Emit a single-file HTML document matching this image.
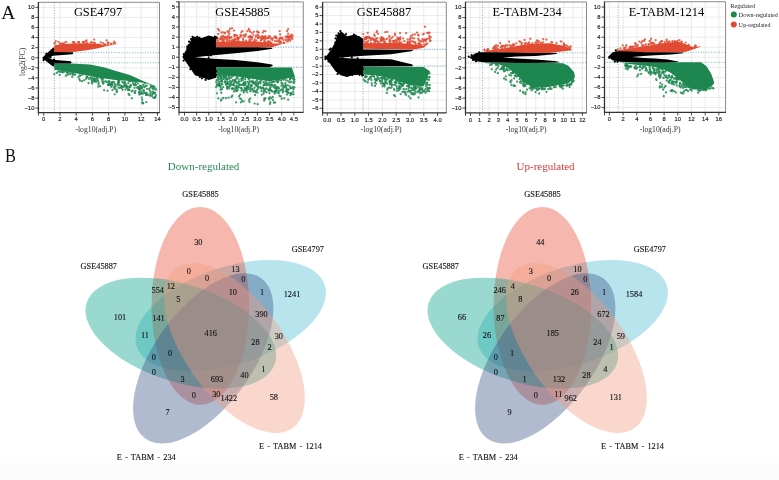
<!DOCTYPE html>
<html><head><meta charset="utf-8"><title>figure</title><style>
html,body{margin:0;padding:0;background:#fff;width:779px;height:480px;overflow:hidden}
svg{display:block;filter:blur(0.35px)}
text{font-family:"Liberation Serif",serif;fill:#111}
.tk{font-family:"Liberation Sans",sans-serif;font-size:5.8px;fill:#222;stroke:#222;stroke-width:0.15px}
.ttl{font-size:12.4px;fill:#000}
.axl{font-size:7.7px;fill:#333}
.lg{font-size:6px;fill:#222}
.pl{font-size:19.5px;fill:#111}
.vn{font-size:8.3px;fill:#111;stroke:#111;stroke-width:0.12px}
.vt{font-size:11px}
</style></head><body>
<svg width="779" height="480" viewBox="0 0 779 480">
<rect x="0" y="463" width="779" height="17" fill="#fcfcfc"/>
<defs>
<clipPath id="c0"><rect x="38.4" y="2.3" width="121.1" height="110.4"/></clipPath>
<clipPath id="c1"><rect x="179" y="1.9" width="124.3" height="110.5"/></clipPath>
<clipPath id="c2"><rect x="322.6" y="2.2" width="123.7" height="110.7"/></clipPath>
<clipPath id="c3"><rect x="465.5" y="2" width="121" height="110.9"/></clipPath>
<clipPath id="c4"><rect x="604.5" y="1.7" width="121.1" height="110.7"/></clipPath>
</defs>
<path d="M43.7 2.3V112.7M59.95 2.3V112.7M76.2 2.3V112.7M92.45 2.3V112.7M108.7 2.3V112.7M124.95 2.3V112.7M141.2 2.3V112.7M157.45 2.3V112.7M38.4 108.15H159.5M38.4 98.07H159.5M38.4 87.99H159.5M38.4 77.91H159.5M38.4 67.83H159.5M38.4 57.75H159.5M38.4 47.67H159.5M38.4 37.59H159.5M38.4 27.51H159.5M38.4 17.43H159.5M38.4 7.35H159.5" stroke="#e6e6e6" stroke-width="0.8" fill="none"/>
<path d="M54.26 2.3V112.7M38.4 52.71H159.5M38.4 62.79H159.5" stroke="#5a9ab8" stroke-width="0.8" stroke-dasharray="1 1.6" fill="none"/>
<g clip-path="url(#c0)">
<path d="M54.26 63.45 L70.51 63.39 L90.01 64.55 L104.64 67.58 L115.2 70.85 L129.82 74.89 L145.26 81.94 L155.01 85.97 L156.64 90.51 L156.64 90.51 L155.01 86.48 L145.26 82.95 L129.82 80.93 L115.2 79.93 L104.64 78.41 L90.01 75.89 L70.51 72.37 L54.26 69.85Z" fill="#1E8750"/>
<path d="M154.81 97.56h0M140.28 90.18h0M152.34 94.19h0M111.52 82.7h0M72.98 74.27h0M144.58 87.18h0M129.72 90.06h0M118.24 80.83h0M129.51 86.54h0M146.99 88.81h0M100.4 77.75h0M118.67 82.67h0M144.28 92.74h0M140.26 89.65h0M109.13 84.3h0M152.22 96.37h0M108.56 82.39h0M110.74 84.64h0M74.24 74.59h0M115.65 84.33h0M132.6 81.5h0M108.84 81.04h0M91.69 78.06h0M128.25 83.3h0M113.87 81.9h0M91.03 77.65h0M58.31 71.59h0M98.04 80.45h0M128.48 89.78h0M91.69 80.28h0M139.89 86.01h0M94.64 79.55h0M138.85 89h0M136.39 81.96h0M127.29 87.26h0M143.25 84.67h0M152.08 86.7h0M86.14 78.77h0M80.52 75.59h0M139.94 86.87h0M154.79 92.53h0M146.71 85.6h0M152.47 87.09h0M108.11 84.93h0M145.9 93.27h0M144.81 86.79h0M124.31 84.8h0M98.76 82.53h0M139.33 92.45h0M91.53 79.53h0M145 83.14h0M94.6 76.69h0M98.05 81.12h0M114.24 83.32h0M150.74 92.01h0M94.59 76.72h0M92.09 78.05h0M60.74 71.82h0M112.36 81.93h0M124.65 81.89h0M92.49 78.73h0M91.72 77.3h0M121.51 87.74h0M138.99 91.9h0M130.35 85.54h0M141.93 87.91h0M115.76 86.3h0M140.28 88.5h0M143.34 90.29h0M142.8 93.8h0M72.76 73.52h0M150.6 87.37h0M130.36 87.12h0M114.74 85.53h0M122.94 87.24h0M150.96 95.58h0M111.4 86.91h0M94.64 81.67h0M92.34 82.16h0M59.69 74.9h0M100.09 86.17h0M98.48 84.23h0M112.42 89.93h0M82.17 81.2h0M141.83 97.57h0M114.73 94.33h0M56.73 72.91h0M131.8 98.33h0M72.25 76.77h0M92.22 83.54h0" stroke="#1E8750" stroke-width="2.3" stroke-linecap="round" stroke-opacity="0.85" fill="none"/>
<path d="M121.21 87.53h0M86.54 76.44h0M152.96 91.62h0M153.66 92.93h0M147.26 93.34h0M154.64 88.72h0M146.49 94.87h0M155.95 95.12h0M125.75 84.13h0M139.96 94.23h0M118.32 84.03h0M125.65 84.8h0M154.64 97.92h0M119.67 84.86h0M111.89 83.95h0M103.05 78.96h0M119.63 85.06h0M107.02 82.2h0M145.7 92.88h0M154.86 92.97h0M119.65 87.77h0M110.57 84.43h0M121.33 85.95h0M154.47 93.31h0M133.91 85.09h0M124.39 86.07h0M137.1 87.76h0M62.3 72.23h0M126.87 86.2h0M94.76 80.98h0M153.2 88.55h0M153.39 89.16h0M141.64 93h0M137.92 83.62h0M70.37 74.35h0M140.89 93.46h0M135.07 81.82h0M139.21 88.63h0M151.01 86.01h0M70.34 73.41h0M121.85 87.33h0M137.96 87.13h0M102.37 81.67h0M129.2 87.01h0M94.93 80.09h0M149.14 89.01h0M134.79 92.57h0M112.5 85.45h0M94.49 78.41h0M154.72 87.4h0M155.95 89.36h0M128.53 88.98h0M126.07 85.74h0M87.59 77.12h0M118.49 87.68h0M125.45 89.57h0M130.94 85.19h0M133.31 83.66h0M126.63 87.74h0M118.91 81.24h0M125.32 85.53h0M59.51 71.7h0M66.42 71.99h0M94.02 80.46h0M95.56 79.08h0M124.88 82.87h0M118.49 82.68h0M150.26 93.67h0M134.84 83.94h0M144 90.75h0M125.29 83.25h0M156.11 89.72h0M97.17 77.93h0M102.3 80.24h0M153.61 97.9h0M109.12 85.18h0M142.7 103.44h0M103.08 83.61h0M92.03 81.73h0M80.06 80.71h0M122.47 89.82h0M114.81 88.9h0M146.34 102.13h0M142.27 99.86h0M104.11 90.13h0M116.99 91.95h0M139.21 94.42h0M54.33 74.09h0M128.63 93.95h0" stroke="#1E8750" stroke-width="2.3" stroke-linecap="round" stroke-opacity="0.85" fill="none"/>
<path d="M101.08 77.84h0M132.71 81.35h0M64.61 71.57h0M141.73 88.28h0M79.8 75.3h0M125.03 86.64h0M142.66 86.3h0M128.81 81h0M75 74.72h0M82.6 74.7h0M126.81 86.24h0M149.74 90.6h0M68.65 74.12h0M140.63 85.93h0M109.41 81.73h0M79.91 75.53h0M141.41 87.42h0M129.95 81.49h0M118.7 81.47h0M146.05 95.12h0M121.81 86.21h0M153.27 86.16h0M155.49 96.98h0M118.17 82.94h0M134.56 87.8h0M148.01 95.09h0M97.71 77.26h0M112.02 83.77h0M149.95 95.55h0M135.86 85.38h0M62.87 72.19h0M128.07 90.19h0M152.32 88.24h0M108.27 84.66h0M87.21 77.3h0M103.41 83.31h0M109.89 84.95h0M112.01 83.01h0M68.68 72.56h0M93.77 79.37h0M138.74 87.41h0M155.31 96.83h0M131.87 91.44h0M105.72 81.24h0M146.43 94.83h0M134.42 84.69h0M72.69 74.21h0M117.86 84.94h0M132.4 90.93h0M142.76 86.81h0M132.65 90.63h0M95.76 80.95h0M94.33 80.31h0M145.56 86.1h0M96.33 81.78h0M152.94 93.53h0M78.53 77.01h0M140.54 93.65h0M139.34 92.86h0M109.81 83.72h0M72.19 72.92h0M103.84 81.76h0M135.37 90.97h0M90.51 77.87h0M119.24 80.71h0M122.39 81.89h0M115.01 86.93h0M135.92 84.54h0M141.8 91.99h0M89.03 78.9h0M67.48 73.18h0M123.54 82.92h0M97.33 79.66h0M101.85 78.92h0M139.1 88.52h0M67.54 74.76h0M129.45 95.21h0M98.33 86.63h0M116.63 91.17h0M134.96 92.9h0M65.86 75.74h0M114.03 87.6h0M84.26 80.15h0M116.65 89.68h0M142.17 102.49h0M143.23 103.22h0M107.47 90.87h0M88.61 83.22h0M79.29 79h0" stroke="#1E8750" stroke-width="2.3" stroke-linecap="round" stroke-opacity="0.85" fill="none"/>
<path d="M54.26 51.95 L64.01 52.05 L72.95 52.11 L85.14 50.59 L98.14 48.17 L105.45 46.16 L118.45 43.64 L118.45 43.64 L105.45 45.15 L98.14 43.64 L85.14 43.13 L72.95 43.39 L64.01 43.89 L54.26 45.15Z" fill="#E14B32"/>
<path d="M79.11 42.1h0M55.15 43.38h0M115.19 43.22h0M62.14 43.48h0M64.55 42.79h0M108.57 43.26h0M93.98 42.93h0M83.81 42.79h0M91.72 42.18h0M54.37 43.37h0M82.68 41.92h0M85.71 41.05h0M106.56 40.32h0M58.4 41.79h0" stroke="#E14B32" stroke-width="2.3" stroke-linecap="round" stroke-opacity="0.85" fill="none"/>
<path d="M104.95 44.38h0M62.97 44.01h0M78.16 42.05h0M103.19 43.48h0M90.75 42.66h0M103.22 43.04h0M74.62 42.88h0M72.79 42.23h0M60.48 44.05h0M94.82 43.25h0M107.48 44.44h0M86.55 40.48h0M55.73 41.17h0M66.2 41.9h0" stroke="#E14B32" stroke-width="2.3" stroke-linecap="round" stroke-opacity="0.85" fill="none"/>
<path d="M78.62 42.63h0M110.91 44.18h0M73.97 42.27h0M113.58 43.4h0M105.15 45.05h0M84.12 42.27h0M111 43.67h0M100.7 42.45h0M87.27 42.96h0M60.04 43.38h0M86.61 43.13h0M107.8 42.34h0M114.12 41.7h0M94.24 39.61h0" stroke="#E14B32" stroke-width="2.3" stroke-linecap="round" stroke-opacity="0.85" fill="none"/>
<path d="M42.24 57.75 L46.14 53.97 L50.2 50.19 L52.96 47.67 L54.26 47.42 L54.26 51.95 L72.54 52.21 L73.36 52.96 L72.54 54.22 L52.96 55.83 L48.33 57.75 L52.96 59.67 L70.92 61.18 L71.73 62.54 L70.51 63.39 L54.26 63.5 L54.26 66.57 L52.64 66.32 L47.76 62.54Z" fill="#000"/>
<path d="M49.81 56.82h0M46.31 53.83h0M50.57 57.33h0M43.61 60.18h0M54.1 59.57h0M43.77 58.73h0M54.06 60h0" stroke="#000" stroke-width="2.2" stroke-linecap="round" fill="none"/>
</g>
<path d="M38.4 2.3H159.5V112.7" stroke="#8a8a8a" stroke-width="1" fill="none"/>
<path d="M38.4 2V112.7H159.8" stroke="#333" stroke-width="1.3" fill="none"/>
<path d="M35.4 108.15H38.4M35.4 98.07H38.4M35.4 87.99H38.4M35.4 77.91H38.4M35.4 67.83H38.4M35.4 57.75H38.4M35.4 47.67H38.4M35.4 37.59H38.4M35.4 27.51H38.4M35.4 17.43H38.4M35.4 7.35H38.4M43.7 112.7V115.7M59.95 112.7V115.7M76.2 112.7V115.7M92.45 112.7V115.7M108.7 112.7V115.7M124.95 112.7V115.7M141.2 112.7V115.7M157.45 112.7V115.7M38.4 112.7V115.7" stroke="#333" stroke-width="0.9" fill="none"/>
<text class="tk" x="34.4" y="109.95" text-anchor="end">−10</text>
<text class="tk" x="34.4" y="99.87" text-anchor="end">−8</text>
<text class="tk" x="34.4" y="89.79" text-anchor="end">−6</text>
<text class="tk" x="34.4" y="79.71" text-anchor="end">−4</text>
<text class="tk" x="34.4" y="69.63" text-anchor="end">−2</text>
<text class="tk" x="34.4" y="59.55" text-anchor="end">0</text>
<text class="tk" x="34.4" y="49.47" text-anchor="end">2</text>
<text class="tk" x="34.4" y="39.39" text-anchor="end">4</text>
<text class="tk" x="34.4" y="29.31" text-anchor="end">6</text>
<text class="tk" x="34.4" y="19.23" text-anchor="end">8</text>
<text class="tk" x="34.4" y="9.15" text-anchor="end">10</text>
<text class="tk" x="43.7" y="121.3" text-anchor="middle">0</text>
<text class="tk" x="59.95" y="121.3" text-anchor="middle">2</text>
<text class="tk" x="76.2" y="121.3" text-anchor="middle">4</text>
<text class="tk" x="92.45" y="121.3" text-anchor="middle">6</text>
<text class="tk" x="108.7" y="121.3" text-anchor="middle">8</text>
<text class="tk" x="124.95" y="121.3" text-anchor="middle">10</text>
<text class="tk" x="141.2" y="121.3" text-anchor="middle">12</text>
<text class="tk" x="157.45" y="121.3" text-anchor="middle">14</text>
<text class="ttl" x="98" y="15.9" text-anchor="middle">GSE4797</text>
<text class="axl" x="95.8" y="131.9" text-anchor="middle">-log10(adj.P)</text>
<path d="M184.5 1.9V112.4M196.65 1.9V112.4M208.8 1.9V112.4M220.95 1.9V112.4M233.1 1.9V112.4M245.25 1.9V112.4M257.4 1.9V112.4M269.55 1.9V112.4M281.7 1.9V112.4M293.85 1.9V112.4M179 107.5H303.3M179 97.44H303.3M179 87.38H303.3M179 77.32H303.3M179 67.26H303.3M179 57.2H303.3M179 47.14H303.3M179 37.08H303.3M179 27.02H303.3M179 16.96H303.3M179 6.9H303.3" stroke="#e6e6e6" stroke-width="0.8" fill="none"/>
<path d="M216.09 1.9V112.4M179 47.14H303.3M179 67.26H303.3" stroke="#5a9ab8" stroke-width="0.8" stroke-dasharray="1 1.6" fill="none"/>
<g clip-path="url(#c1)">
<path d="M216.09 67.46 L235.53 67.46 L269.55 67.46 L284.13 67.46 L291.91 67.46 L295.06 77.32 L295.06 77.32 L291.91 77.32 L284.13 79.33 L269.55 81.34 L235.53 76.31 L216.09 75.31Z" fill="#1E8750"/>
<path d="M248.82 83.9h0M250.28 89.79h0M227.96 86.95h0M276.66 88.99h0M270.94 84.55h0M247.92 89.03h0M221.84 83.57h0M225.56 81.73h0M244.98 84.54h0M252.03 85.31h0M247.79 89.49h0M250.45 89.11h0M276.62 80.79h0M272.33 91.4h0M260.42 86.81h0M237.76 87.29h0M286.65 89.32h0M243.94 91.34h0M281.52 83.34h0M227.83 81.88h0M278.8 90.92h0M285.46 79.92h0M294.04 80.03h0M288.38 89.61h0M258.99 87.63h0M221.04 77.46h0M241.55 85.18h0M235.75 81.48h0M282.9 85.22h0M265.26 89.24h0M255.9 85.21h0M238.64 79.35h0M247.47 86.99h0M292.77 86.79h0M227.8 83.54h0M229.77 85.11h0M259.02 82.42h0M280.41 90.61h0M241.47 80.79h0M281.14 80.64h0M221.29 79.25h0M293.47 89.46h0M220.74 85.7h0M293.71 83.15h0M255.55 91.49h0M265.02 91.06h0M219.05 75.91h0M282.93 88.02h0M231.93 88.84h0M227.91 87.31h0M247.06 86.76h0M245.48 90.24h0M230.76 83.62h0M244.69 88.1h0M265.75 81.22h0M236.83 83.03h0M216.18 75.33h0M249.33 82.02h0M232.12 88.33h0M273.8 87.4h0M281.2 89.75h0M243.29 77.85h0M266.07 85.2h0M256.32 86.09h0M239 84.93h0M253.98 82.86h0M251.19 81.54h0M286.41 91.13h0M224.71 76.09h0M232.4 76.26h0M291.02 88.36h0M219.31 85.96h0M235.74 86.97h0M242.68 84.19h0M281.35 85.79h0M293.06 88.1h0M248.21 89.01h0M243.93 82.74h0M246.58 88.88h0M227.32 88.79h0M249.62 81.19h0M225.56 76.94h0M263.37 82.06h0M223.21 87.08h0M294.43 87.52h0M257.95 84.04h0M278.39 92.74h0M291.83 81.85h0M277.59 82.31h0M221.57 80.95h0M257.2 79.6h0M258.18 87.6h0M275.8 92.59h0M287.95 85.32h0M272.95 91.7h0M252.03 89.78h0M222.37 84.3h0M245.21 81.88h0M230.02 77.53h0M240.01 84.85h0M290.17 78.92h0M282.37 89.69h0M239.19 84.16h0M221.07 76.38h0M269.35 82.4h0M225.17 75.93h0M217.99 77.45h0M275.42 85.94h0M269.31 85.06h0M275.48 88.33h0M254.72 90.84h0M289.92 86.46h0M225.89 84.72h0M248.49 85.3h0M287.75 92.82h0M263.97 82.69h0M234.81 80.43h0M275.07 91.52h0M241.7 88.81h0M220.93 100.61h0M279.47 95.75h0M234 91.39h0M264.18 100.63h0M264.61 98.94h0M286.95 94.56h0M240.22 94.53h0M231.54 96.99h0M271.44 98.15h0M228.55 97.65h0M221.62 99.5h0M241.35 99.42h0M222.06 89.18h0M257.64 104.14h0M261.8 94.87h0M234.51 91.39h0M218.43 98.41h0M250.31 98.54h0" stroke="#1E8750" stroke-width="2.3" stroke-linecap="round" stroke-opacity="0.85" fill="none"/>
<path d="M234.68 85.32h0M276.3 87.03h0M237.62 90.51h0M271.84 84.95h0M226.19 84.3h0M269.9 88.31h0M291.41 93.31h0M256.27 83.98h0M251.87 81.97h0M285.55 84.91h0M274.61 81.57h0M243.08 90.34h0M220.81 87.62h0M275.06 87.54h0M294.04 78.19h0M257.81 85.77h0M249.26 78.38h0M222.04 81.65h0M237.7 82.88h0M235.81 79.07h0M236.97 85.64h0M253.52 81.94h0M233.68 88.4h0M229.63 82.81h0M223.61 76.24h0M230.02 81.07h0M238.92 87.17h0M240.6 87.82h0M256.51 81.9h0M270.77 85.88h0M257.86 86.57h0M270.08 89.92h0M288.51 92.96h0M256.75 81.85h0M250.48 91.41h0M287.2 89.55h0M261.72 88.65h0M227.19 79.57h0M266.25 88.3h0M235.04 81.2h0M234.82 81.43h0M265.68 83.4h0M246.42 86.53h0M242.15 78.44h0M260.72 80.35h0M276.19 90.57h0M285.35 83.36h0M224.98 81.36h0M229.37 78.87h0M256.21 83.51h0M290.32 78.1h0M238.56 81.49h0M283.45 91.48h0M291.81 94.28h0M241.59 88.13h0M283.15 79.51h0M216.24 82.24h0M247.48 81.91h0M228.89 76.05h0M220.69 77.39h0M228.85 76.66h0M269.1 90.7h0M216.94 85.37h0M220.73 78.09h0M256.03 92.29h0M227.87 84.25h0M286.05 85.51h0M232.98 84.73h0M267.58 85.24h0M263.74 85.25h0M241.39 90.6h0M227.14 86.85h0M241.16 78.87h0M271.09 90.68h0M266.99 83.01h0M263.31 88.26h0M245.66 83.98h0M282.96 92.2h0M235.93 81.97h0M243.95 85.31h0M266.54 92.26h0M278.65 88.05h0M218.84 84.2h0M223.77 77.26h0M275.95 88.95h0M256.8 90.37h0M223.39 78.37h0M250.76 85.14h0M282.87 92.28h0M276.8 87.79h0M252.61 80.74h0M282.06 83.33h0M290.11 79.72h0M226.16 82.76h0M250.61 84.96h0M272.26 82.2h0M290.51 93h0M226.92 87.78h0M231.01 81.97h0M244.13 85.27h0M294.39 79.54h0M284.44 86.08h0M290.53 87.88h0M248.66 86.85h0M254.9 83.29h0M285.5 82.92h0M278.11 87.06h0M278.66 92.96h0M258.21 87.54h0M220.01 85.34h0M216.65 80.05h0M218.74 85.44h0M237.68 89.51h0M250.46 87.9h0M234.12 80.47h0M294.42 81.91h0M236.89 77.47h0M256.31 81.04h0M232.79 80.09h0M254.62 103.56h0M232.29 95.55h0M248.92 99.97h0M269.88 103.88h0M284.25 98.47h0M216.98 93.28h0M225.91 98.21h0M239.11 96.22h0M220.45 89.74h0M265.39 98.33h0M236.6 91.33h0M236.08 102.3h0M272.73 96.93h0M273.03 100.08h0M243.69 101.35h0M255.08 94.98h0M270.36 102.46h0" stroke="#1E8750" stroke-width="2.3" stroke-linecap="round" stroke-opacity="0.85" fill="none"/>
<path d="M291.83 77.88h0M287.37 80.61h0M273.49 82.05h0M221.7 81h0M261.36 91.03h0M226.24 76.46h0M254.52 87.73h0M272.01 84.78h0M265.36 83.99h0M293.2 91.91h0M267.88 89.44h0M217.41 84.1h0M246.99 87.78h0M235.96 90.21h0M277.74 82.17h0M229.28 88.52h0M263.94 85.03h0M270.73 89.89h0M245.67 89.19h0M225.39 77.12h0M271.32 82.43h0M261.1 88.18h0M243.04 84.6h0M233.98 83h0M263.48 93.52h0M268.77 90h0M244.19 82.91h0M237.31 77.69h0M286.15 91.24h0M248.72 83.55h0M278.98 88.41h0M274.89 84.91h0M221.96 80.52h0M284.16 86.23h0M262.83 87.61h0M233.21 84.75h0M217.5 79.96h0M218.45 78.76h0M260.57 83.4h0M288.55 89.56h0M282.79 90.11h0M272.75 85.73h0M219.94 75.9h0M230.33 85.88h0M218.73 79.31h0M227.76 78.74h0M222.92 76.29h0M231.17 77.68h0M258.38 83.24h0M286.2 87.72h0M246.37 90.27h0M275.34 91.88h0M274.57 93.6h0M227.44 83.84h0M231.21 84.76h0M260.06 82.48h0M254.12 90.57h0M274.66 85.09h0M248.78 79.18h0M218.91 85.01h0M263.75 92.72h0M285.9 87.01h0M236.89 88.02h0M264.02 89.72h0M254.31 83.72h0M263.64 91.44h0M226.54 78.18h0M289.97 82.39h0M287.21 92.01h0M232.55 88.9h0M287.44 92.1h0M291.12 93.58h0M274.83 91.35h0M223.64 78.89h0M245.23 79.03h0M276.89 88.16h0M245.01 88.98h0M269.49 93.13h0M288.85 81.7h0M232.02 81.45h0M241.85 79.35h0M217.28 84.88h0M284.64 87.44h0M248.51 78.61h0M253.44 91.74h0M270.51 87.34h0M219.82 78.7h0M260.66 81.21h0M216.18 86.88h0M268.76 84.03h0M226.95 79.48h0M293.24 79.07h0M225.6 78.78h0M235.14 89.01h0M253.04 83.13h0M219.66 83.48h0M218.47 82h0M282.36 83.37h0M276.81 90.87h0M278.76 80.84h0M239.99 84.65h0M220.09 81.34h0M242.98 80.11h0M247.67 87.24h0M239.51 81.6h0M251.13 86.41h0M255.05 82.57h0M286.68 90.64h0M257.57 92.61h0M229.09 87.2h0M277.47 81.12h0M242.8 77.51h0M224.76 82.35h0M290.34 94.99h0M252.4 88.9h0M217.62 77.23h0M272.68 85.29h0M257.56 89.3h0M273.88 102.51h0M269.44 99.42h0M269.84 97.31h0M288.2 99.63h0M268.84 98.36h0M281.69 98.69h0M247.28 92.35h0M249.49 101.9h0M243.68 92.53h0M275.15 102.59h0M293.56 94.35h0M239.98 98.37h0M223.18 97.91h0M280.73 96.37h0M242.09 101.35h0M264.44 98.64h0M240.87 102.36h0M221.38 92.73h0" stroke="#1E8750" stroke-width="2.3" stroke-linecap="round" stroke-opacity="0.85" fill="none"/>
<path d="M216.09 46.94 L235.53 46.94 L257.4 46.94 L271.98 47.34 L281.7 44.12 L292.63 42.11 L292.63 42.11 L281.7 43.62 L271.98 43.62 L257.4 41.61 L235.53 41.1 L216.09 42.11Z" fill="#E14B32"/>
<path d="M249.89 41.2h0M270.8 42.96h0M222.95 39.77h0M288.18 33.67h0M224.86 39.12h0M227.11 37.22h0M280 41.47h0M290.25 40.56h0M220.96 39.55h0M221.1 36.85h0M276.49 38.21h0M280.35 38.4h0M258.86 36.19h0M234.96 38.77h0M238.25 40.6h0M226.96 40.54h0M279.98 43.37h0M265.23 41.91h0M268 38.06h0M238.53 38.27h0M265.28 38.59h0M232.57 40.27h0M272.32 40.09h0M217.42 38.48h0M272.89 38.64h0M223.02 39.53h0M228.82 37.47h0M228.62 35.52h0M276.74 38.58h0M249.58 36.35h0M257.91 35.26h0M249.65 36.09h0M288.81 40.39h0M281.51 38.47h0M286.83 37.12h0M233.49 39.71h0M292.36 36.77h0M274.81 36.66h0M250.16 37.81h0M230.22 38.1h0M274.92 37.23h0M246.04 40.76h0M268.43 36.39h0M235.45 34.79h0M217.06 40.27h0M262.29 37.65h0M264.78 38.14h0M279.46 40.75h0M262.57 36.44h0M240.49 34.99h0M274.85 41.22h0M258.72 37.58h0M279.14 41.53h0M254.04 41.32h0M260.96 40.01h0M288.37 36.92h0M252.1 36.91h0M262.66 39.32h0M228.38 36.08h0M283.41 39.92h0M243.98 35.17h0M234.09 30.53h0M254 31.8h0M218.21 34.02h0M229.24 30.96h0M288.12 29.2h0M242.37 31.18h0M262.76 32.53h0M279.67 31.11h0M287.07 31.08h0M225.05 32.71h0M280.15 34.39h0" stroke="#E14B32" stroke-width="2.3" stroke-linecap="round" stroke-opacity="0.85" fill="none"/>
<path d="M234.77 35.99h0M231.33 37.1h0M281.09 42.12h0M222.49 41.15h0M261.55 39.14h0M218.26 41.95h0M274.6 37h0M283.64 42.66h0M289 37.4h0M222.22 36.29h0M279.42 38.71h0M265.56 39h0M218.29 41.2h0M285.88 40.44h0M268.01 42.26h0M236.99 35.61h0M263.74 38.36h0M257.96 37.56h0M225.55 36.57h0M255.77 36.75h0M263.9 37.09h0M263.26 37.95h0M291.26 37.27h0M271.09 38.79h0M264.64 37.94h0M269.95 36.43h0M285.63 36.68h0M224.82 37.82h0M219.64 39.19h0M263.55 37h0M235.58 40.01h0M260.3 37.62h0M240.21 37.22h0M285.77 39.51h0M231.42 37.23h0M260.95 40.49h0M222.59 39.16h0M227.36 39.59h0M269.88 41.58h0M249.26 41.3h0M266.5 42.63h0M216.6 37.1h0M276.07 37.97h0M288.66 37.08h0M233.93 40.84h0M230.47 37.64h0M265.51 36.21h0M268.91 37.99h0M234.42 34.86h0M250.37 36.44h0M271.62 43.26h0M237.39 37.03h0M229.73 37.39h0M238.23 39.42h0M271.39 38.19h0M231.82 40.63h0M243.03 38.35h0M245.59 35.8h0M223.24 41.05h0M280.46 42.53h0M248.45 37.14h0M257.05 31.44h0M218.09 28.95h0M245.9 34.12h0M250.01 31.58h0M249.49 30.43h0M232.01 28.35h0M258.71 32.51h0M230.02 28.67h0M251.75 32.75h0M229.51 33.62h0M228.4 32.53h0" stroke="#E14B32" stroke-width="2.3" stroke-linecap="round" stroke-opacity="0.85" fill="none"/>
<path d="M258.5 37.79h0M237.63 38h0M229.11 40.17h0M262.49 37.03h0M277.39 41.44h0M268.27 41.21h0M291.59 34.69h0M236.88 38.8h0M227.25 38.2h0M278.69 40.34h0M282.45 38h0M288.31 38.48h0M217.27 38.29h0M237.52 38.67h0M223.75 40.81h0M287.47 41.46h0M240.88 35.81h0M262.46 38h0M283.95 42.95h0M229.73 40.97h0M251.6 39.7h0M244.61 36.48h0M292.29 38.86h0M276.01 36.53h0M267.15 38.09h0M290.33 37.09h0M264.9 36.83h0M252.18 38h0M253.41 34.67h0M276.99 41.16h0M249.52 39.64h0M258.03 38.09h0M290.24 39.19h0M234.46 35.73h0M254.78 39.69h0M292.3 35.24h0M222.53 37.87h0M292.23 38.87h0M225.91 37.43h0M288.41 36.73h0M256.29 35.53h0M261.82 36.46h0M224.13 37.23h0M289.92 35.67h0M254.99 41.11h0M261.71 36.83h0M280.54 37.73h0M262.96 37.95h0M269.43 42.18h0M264.49 40.55h0M250.43 36.66h0M287.95 39.52h0M223.32 35.81h0M220.58 38.35h0M238.45 37.98h0M264.18 41.79h0M256.3 40.32h0M241.71 35.59h0M243.17 40h0M287.3 36.24h0M227.39 31.37h0M241.3 32.34h0M223.3 32.43h0M257.76 32.51h0M224.72 33.03h0M247.4 31.14h0M248.85 28.98h0M219.03 30.5h0M265.5 31.37h0M221.43 32.5h0M263.69 30.87h0" stroke="#E14B32" stroke-width="2.3" stroke-linecap="round" stroke-opacity="0.85" fill="none"/>
<path d="M182.31 57 L186.93 48.15 L192.76 36.38 L196.65 37.08 L201.51 37.88 L208.8 35.57 L216.09 37.58 L216.09 47.14 L257.4 47.34 L271.98 47.84 L272.47 48.65 L257.4 50.96 L237.96 52.97 L213.66 55.19 L194.95 57.2 L213.66 58.71 L235.53 60.02 L257.4 62.23 L271.98 64.44 L272.95 65.75 L269.55 67.26 L216.09 67.26 L216.09 77.82 L208.8 79.94 L201.51 77.32 L194.95 75.31 L188.15 65.25Z" fill="#000"/>
<path d="M201.96 78.37h0M197.12 36.73h0M183.61 60.59h0M189.03 41.66h0M190.28 69.24h0M199.94 77.02h0M216.1 71.43h0M192.48 36.82h0M208.6 55.56h0M208.69 58.08h0M214.96 36.65h0M183.81 54.17h0M199.35 37.63h0M210.96 55.36h0M187.25 47.98h0M205.58 79.9h0M216.21 75.15h0M216.52 37.71h0M188.64 45.22h0M191.05 39.09h0M187.26 46.48h0" stroke="#000" stroke-width="2.2" stroke-linecap="round" fill="none"/>
</g>
<path d="M179 1.9H303.3V112.4" stroke="#8a8a8a" stroke-width="1" fill="none"/>
<path d="M179 1.6V112.4H303.6" stroke="#333" stroke-width="1.3" fill="none"/>
<path d="M176 107.5H179M176 97.44H179M176 87.38H179M176 77.32H179M176 67.26H179M176 57.2H179M176 47.14H179M176 37.08H179M176 27.02H179M176 16.96H179M176 6.9H179M184.5 112.4V115.4M196.65 112.4V115.4M208.8 112.4V115.4M220.95 112.4V115.4M233.1 112.4V115.4M245.25 112.4V115.4M257.4 112.4V115.4M269.55 112.4V115.4M281.7 112.4V115.4M293.85 112.4V115.4M176 1.9H179M179 112.4V115.4" stroke="#333" stroke-width="0.9" fill="none"/>
<text class="tk" x="175" y="109.3" text-anchor="end">−5</text>
<text class="tk" x="175" y="99.24" text-anchor="end">−4</text>
<text class="tk" x="175" y="89.18" text-anchor="end">−3</text>
<text class="tk" x="175" y="79.12" text-anchor="end">−2</text>
<text class="tk" x="175" y="69.06" text-anchor="end">−1</text>
<text class="tk" x="175" y="59" text-anchor="end">0</text>
<text class="tk" x="175" y="48.94" text-anchor="end">1</text>
<text class="tk" x="175" y="38.88" text-anchor="end">2</text>
<text class="tk" x="175" y="28.82" text-anchor="end">3</text>
<text class="tk" x="175" y="18.76" text-anchor="end">4</text>
<text class="tk" x="175" y="8.7" text-anchor="end">5</text>
<text class="tk" x="184.5" y="121" text-anchor="middle">0.0</text>
<text class="tk" x="196.65" y="121" text-anchor="middle">0.5</text>
<text class="tk" x="208.8" y="121" text-anchor="middle">1.0</text>
<text class="tk" x="220.95" y="121" text-anchor="middle">1.5</text>
<text class="tk" x="233.1" y="121" text-anchor="middle">2.0</text>
<text class="tk" x="245.25" y="121" text-anchor="middle">2.5</text>
<text class="tk" x="257.4" y="121" text-anchor="middle">3.0</text>
<text class="tk" x="269.55" y="121" text-anchor="middle">3.5</text>
<text class="tk" x="281.7" y="121" text-anchor="middle">4.0</text>
<text class="tk" x="293.85" y="121" text-anchor="middle">4.5</text>
<text class="ttl" x="242.5" y="15.9" text-anchor="middle">GSE45885</text>
<text class="axl" x="238.6" y="131.9" text-anchor="middle">-log10(adj.P)</text>
<path d="M327.2 2.2V112.9M341 2.2V112.9M354.8 2.2V112.9M368.6 2.2V112.9M382.4 2.2V112.9M396.2 2.2V112.9M410 2.2V112.9M423.8 2.2V112.9M437.6 2.2V112.9M322.6 108.28H446.3M322.6 99.85H446.3M322.6 91.42H446.3M322.6 82.99H446.3M322.6 74.56H446.3M322.6 66.13H446.3M322.6 57.7H446.3M322.6 49.27H446.3M322.6 40.84H446.3M322.6 32.41H446.3M322.6 23.98H446.3M322.6 15.55H446.3M322.6 7.12H446.3" stroke="#e6e6e6" stroke-width="0.8" fill="none"/>
<path d="M363.08 2.2V112.9M322.6 49.27H446.3M322.6 66.13H446.3" stroke="#5a9ab8" stroke-width="0.8" stroke-dasharray="1 1.6" fill="none"/>
<g clip-path="url(#c2)">
<path d="M363.08 66.97 L377.16 66.97 L394.27 66.97 L411.38 66.97 L423.8 66.97 L429.87 71.19 L429.87 71.19 L423.8 86.36 L411.38 85.52 L394.27 79.62 L377.16 75.4 L363.08 74.56Z" fill="#1E8750"/>
<path d="M408.87 90.42h0M414.8 88.57h0M390.77 79.06h0M381.01 83.47h0M377.23 75.73h0M382.5 79.17h0M375.62 78.59h0M385.56 81.31h0M377.81 77h0M395.69 83.61h0M427.78 90.49h0M400.26 88.77h0M415.88 88.19h0M385.3 81.53h0M376.06 80.82h0M423.88 91.32h0M409.04 85.63h0M385.24 81.39h0M402.47 91.83h0M406.86 86.05h0M429.83 85.11h0M386.16 82.41h0M413.99 89.76h0M416.24 86.53h0M398.5 88.64h0M407.02 85.89h0M373.97 76.62h0M400.17 87.49h0M427.52 87.69h0M391.69 87.24h0M389.8 81.83h0M408.35 85.18h0M404.34 83.17h0M392.52 79.93h0M423.66 90.85h0M420.74 86.32h0M413.39 92.93h0M404.27 89.54h0M395.89 82.25h0M365.04 76.76h0M387.31 83.64h0M401.61 84.73h0M383.29 84.1h0M426.15 82.86h0M390.68 87.91h0M378.96 78.89h0M380.53 78.15h0M412.36 88.64h0M409.13 84.74h0M403.26 91.98h0M422.09 89.34h0M426.01 84.47h0M399.15 86.5h0M390.35 80.77h0M403.45 83.42h0M422.34 88.14h0M403.43 88.82h0M429.44 77.16h0M419.83 88.21h0M429.53 88.13h0M385.09 79.88h0M381.9 78.49h0M384.02 78.08h0M396.95 88.25h0M400.51 84.17h0M384.52 86.55h0M387.33 89.85h0M410.56 98.26h0M395.1 96.15h0M376.04 83.78h0M374.9 82.64h0M429.01 91.13h0M394.1 95.24h0" stroke="#1E8750" stroke-width="2.3" stroke-linecap="round" stroke-opacity="0.85" fill="none"/>
<path d="M428.55 79.71h0M385.99 82.79h0M405.43 92.88h0M381.9 81.82h0M394.57 84.92h0M365.78 76.81h0M397.04 90.87h0M363.5 79.46h0M429.51 88.05h0M424.43 90.9h0M391.61 84.84h0M417.51 92.04h0M415.36 93.5h0M411.35 87.88h0M382.6 82.95h0M428.24 88.5h0M396.14 83.14h0M384.29 84.42h0M426.03 86.31h0M394.32 90.05h0M381.44 78.06h0M372.2 75.95h0M425.47 89.04h0M382.23 80.66h0M408.45 91.33h0M411.4 93.61h0M414.26 86.76h0M389.95 83.45h0M396.57 86.21h0M427.3 82.76h0M397.54 80.86h0M394 89.15h0M376.23 80.15h0M420.17 90.46h0M405.22 92.93h0M406.26 89.16h0M403.69 83.85h0M411.23 87.85h0M387.27 79.29h0M428.97 79.91h0M388.57 78.38h0M370.95 78.36h0M399.3 88.42h0M389.04 87.63h0M423.16 91.12h0M391.45 83.09h0M402.75 85.04h0M373.97 76.58h0M385.14 78.46h0M399.83 83.13h0M397.86 81.28h0M368.22 79.81h0M401.15 84.57h0M427.8 84.87h0M411.21 90.63h0M370.82 76.99h0M365.69 76.25h0M379.89 81.2h0M407.85 91.62h0M409.57 87.41h0M422.02 92.64h0M414.84 89.4h0M429.19 77.17h0M412.54 90.09h0M419.41 91.2h0M387.56 88.32h0M425.39 92.86h0M365.62 81.41h0M405.59 94.61h0M372.04 85.36h0M382.59 86.25h0M364.62 80.97h0M406.17 94.77h0" stroke="#1E8750" stroke-width="2.3" stroke-linecap="round" stroke-opacity="0.85" fill="none"/>
<path d="M398.79 90.33h0M369.13 78.61h0M403.06 85.68h0M399.45 86.62h0M380.14 80.85h0M418.81 87.39h0M418.82 91.49h0M377.13 78.71h0M416.22 88.67h0M374.78 79.43h0M371.53 80.09h0M427.13 79.59h0M415.23 88.02h0M405.26 92.05h0M413.45 94.59h0M390.3 82.73h0M366.79 76.65h0M421.98 89.4h0M369.14 78.96h0M375.3 79.55h0M415.27 86.98h0M412.08 93.3h0M384.45 78.36h0M416.03 88.61h0M419.91 89.05h0M384.55 85.14h0M391.36 82.03h0M418.34 87.26h0M408.81 86.06h0M415.35 91.46h0M396.05 80.86h0M427.5 88.7h0M401.48 86.49h0M403.87 83.25h0M382.98 77.14h0M389.19 81.29h0M398.92 83.26h0M427.17 78.02h0M392.62 84.84h0M365.64 77.31h0M394.77 82.26h0M390.93 80.93h0M420.13 93.36h0M420.42 89.12h0M413.77 86.72h0M414.17 94.37h0M370.22 76.86h0M401.23 83.76h0M410.14 91.92h0M390.24 84.56h0M399.5 81.45h0M384.25 77.6h0M420.82 93.02h0M398.53 89.54h0M412.24 94.12h0M418.45 90.67h0M408.44 88.17h0M429.73 73.35h0M386.53 79.76h0M399.94 82.22h0M426.69 91.4h0M377.19 80h0M414.51 88.28h0M384.3 83.37h0M429.13 88.28h0M367.68 82.4h0M374.93 85.94h0M371.63 83.32h0M408.68 96.47h0M400.63 94.03h0M386.87 92.93h0M418.53 97.47h0" stroke="#1E8750" stroke-width="2.3" stroke-linecap="round" stroke-opacity="0.85" fill="none"/>
<path d="M363.08 48.85 L377.98 49.1 L393.44 49.1 L412.48 49.69 L424.35 47.58 L430.7 40.84 L430.7 40.84 L424.35 45.9 L412.48 44.21 L393.44 42.53 L377.98 43.37 L363.08 42.95Z" fill="#E14B32"/>
<path d="M421.27 40.88h0M381.19 38.18h0M374.83 40.99h0M398.38 39.14h0M381.66 38.76h0M397.49 37.66h0M374.21 40.48h0M383.31 39.68h0M383.25 39.13h0M364.25 39.29h0M364.46 38.61h0M399.82 42.43h0M419.15 43.26h0M430.18 40.75h0M429.24 38.44h0M414.88 42.46h0M372.28 38.52h0M381.52 40.69h0M377.92 43.18h0M424.84 39.99h0M407.44 43.3h0M418.72 39.93h0M393.82 41.75h0M373.3 38.84h0M381.29 37.65h0M395.95 40.85h0M395.63 40.51h0M403.22 38.46h0M366.16 38.87h0M381.03 39.91h0M395.43 41.54h0M371.13 40.15h0M399.51 40.61h0M384.53 42.79h0M363.49 41.06h0M376.4 38.37h0M426.19 44.33h0M421.68 45.26h0M421.54 41.58h0M383.65 41h0M383.28 40.47h0M395.65 41.86h0M380.39 37.83h0M396.99 41.72h0M376.79 40.99h0M407.66 39.46h0M425.04 40.24h0M429.55 32.75h0M389.4 35.9h0M429.31 35.95h0M394.9 33.62h0M412.72 34.76h0M411.03 36.24h0M387.4 31.79h0M368.88 36.91h0M374.74 35.92h0" stroke="#E14B32" stroke-width="2.3" stroke-linecap="round" stroke-opacity="0.85" fill="none"/>
<path d="M401.32 42.69h0M391.45 38.14h0M398.32 38.26h0M381.93 37.33h0M410.23 38.91h0M392.6 36.86h0M384.7 39.62h0M383.37 38.13h0M400.31 37.27h0M419.55 41.04h0M370.89 42.82h0M366.98 42.4h0M430.7 37.22h0M373.99 39.99h0M410.22 38.15h0M368.23 37.75h0M367.33 43.05h0M366.48 38.27h0M396.58 40.04h0M414.24 38.33h0M389.49 40.15h0M369.79 38.58h0M419.96 44.39h0M375.67 39.23h0M392.73 40.82h0M410.7 41.91h0M370.38 37.82h0M404.38 41.22h0M425.47 41.07h0M397.51 39.49h0M424.68 44.72h0M410.23 41.68h0M424.03 44.54h0M408.06 42.38h0M409.97 43.39h0M377.78 41.57h0M366.08 36.9h0M409.64 39.96h0M399.54 38.66h0M426.78 39.14h0M367.19 37.49h0M407.44 43.51h0M373.38 38.79h0M413.64 42.1h0M429.19 38.45h0M389.78 41.25h0M378.12 33.87h0M377.02 31.07h0M414.9 34.43h0M363.21 34.07h0M367.72 32.78h0M406.18 33.22h0M418.19 34.63h0M412.32 38.04h0M423.91 33.82h0M427.14 32.92h0" stroke="#E14B32" stroke-width="2.3" stroke-linecap="round" stroke-opacity="0.85" fill="none"/>
<path d="M375.4 41.5h0M380.59 41.16h0M407.72 41.86h0M409.81 42.71h0M426.8 43.29h0M370.6 38.53h0M430.5 40.69h0M386.92 38.75h0M419.61 43.7h0M377.43 38.3h0M424.12 39.53h0M415.43 42.64h0M365.99 42.14h0M386.67 39.12h0M394.33 41.26h0M379.27 42.81h0M374.22 42.54h0M419.95 44.87h0M422.47 39.1h0M390.14 41.8h0M375.05 42.43h0M363.66 41.81h0M394.12 40.98h0M399.88 39.02h0M366.02 39.3h0M382.91 39.17h0M367.19 37.13h0M380.86 39.46h0M412.38 41.17h0M389.28 37.7h0M423.49 40.75h0M425.65 40.03h0M390.17 40.03h0M398.32 42.85h0M418.18 38.72h0M423.49 39.87h0M415.75 44.61h0M375.21 41.39h0M373.02 38.83h0M426.5 38.81h0M400.37 38.91h0M364.76 37.73h0M418.01 43.92h0M368.3 40.89h0M384.9 42.02h0M423.28 41.79h0M385.36 32.21h0M400.13 33.14h0M374.08 34.57h0M423.02 34.35h0M424.97 26.77h0M417.08 32.58h0M395.09 35.23h0M428.65 33.01h0M418.72 35.43h0M376.48 32.35h0" stroke="#E14B32" stroke-width="2.3" stroke-linecap="round" stroke-opacity="0.85" fill="none"/>
<path d="M325.27 57.7 L331.34 49.27 L335.48 41.68 L337.14 35.02 L341.28 31.57 L347.07 36.29 L353.14 35.02 L359.49 36.29 L363.08 38.82 L363.08 49.44 L396.2 49.69 L412.48 50.11 L412.76 51.12 L390.96 54.33 L360.32 56.01 L337.96 57.7 L360.32 58.71 L390.96 59.3 L412.48 64.61 L412.76 66.13 L363.08 66.55 L363.08 75.4 L359.49 74.73 L352.04 75.32 L347.07 77.09 L340.72 75.32 L335.48 71.19 L329.96 63.6Z" fill="#000"/>
<path d="M325.38 57.5h0M337.6 73.88h0M335.56 38.42h0M352.15 75.03h0M346.06 34.02h0M359.46 74.85h0M351.82 57.27h0M335.21 42.6h0M336.25 35.48h0M330.68 48.72h0M340.32 31.09h0M362.13 75.62h0M328.57 61.48h0M362.92 75.2h0M353.9 34.65h0M362.99 68.55h0M355.71 35.64h0M325.37 59.25h0M338.58 33.42h0M342.5 58.18h0M329.74 49.71h0M325.54 56.67h0M357.59 58.32h0" stroke="#000" stroke-width="2.2" stroke-linecap="round" fill="none"/>
</g>
<path d="M322.6 2.2H446.3V112.9" stroke="#8a8a8a" stroke-width="1" fill="none"/>
<path d="M322.6 1.9V112.9H446.6" stroke="#333" stroke-width="1.3" fill="none"/>
<path d="M319.6 108.28H322.6M319.6 99.85H322.6M319.6 91.42H322.6M319.6 82.99H322.6M319.6 74.56H322.6M319.6 66.13H322.6M319.6 57.7H322.6M319.6 49.27H322.6M319.6 40.84H322.6M319.6 32.41H322.6M319.6 23.98H322.6M319.6 15.55H322.6M319.6 7.12H322.6M327.2 112.9V115.9M341 112.9V115.9M354.8 112.9V115.9M368.6 112.9V115.9M382.4 112.9V115.9M396.2 112.9V115.9M410 112.9V115.9M423.8 112.9V115.9M437.6 112.9V115.9M322.6 112.9V115.9" stroke="#333" stroke-width="0.9" fill="none"/>
<text class="tk" x="318.6" y="110.08" text-anchor="end">−6</text>
<text class="tk" x="318.6" y="101.65" text-anchor="end">−5</text>
<text class="tk" x="318.6" y="93.22" text-anchor="end">−4</text>
<text class="tk" x="318.6" y="84.79" text-anchor="end">−3</text>
<text class="tk" x="318.6" y="76.36" text-anchor="end">−2</text>
<text class="tk" x="318.6" y="67.93" text-anchor="end">−1</text>
<text class="tk" x="318.6" y="59.5" text-anchor="end">0</text>
<text class="tk" x="318.6" y="51.07" text-anchor="end">1</text>
<text class="tk" x="318.6" y="42.64" text-anchor="end">2</text>
<text class="tk" x="318.6" y="34.21" text-anchor="end">3</text>
<text class="tk" x="318.6" y="25.78" text-anchor="end">4</text>
<text class="tk" x="318.6" y="17.35" text-anchor="end">5</text>
<text class="tk" x="318.6" y="8.92" text-anchor="end">6</text>
<text class="tk" x="327.2" y="121.5" text-anchor="middle">0.0</text>
<text class="tk" x="341" y="121.5" text-anchor="middle">0.5</text>
<text class="tk" x="354.8" y="121.5" text-anchor="middle">1.0</text>
<text class="tk" x="368.6" y="121.5" text-anchor="middle">1.5</text>
<text class="tk" x="382.4" y="121.5" text-anchor="middle">2.0</text>
<text class="tk" x="396.2" y="121.5" text-anchor="middle">2.5</text>
<text class="tk" x="410" y="121.5" text-anchor="middle">3.0</text>
<text class="tk" x="423.8" y="121.5" text-anchor="middle">3.5</text>
<text class="tk" x="437.6" y="121.5" text-anchor="middle">4.0</text>
<text class="ttl" x="383.9" y="15.9" text-anchor="middle">GSE45887</text>
<text class="axl" x="381.2" y="131.9" text-anchor="middle">-log10(adj.P)</text>
<path d="M470.4 2V112.9M479.73 2V112.9M489.06 2V112.9M498.39 2V112.9M507.72 2V112.9M517.05 2V112.9M526.38 2V112.9M535.71 2V112.9M545.04 2V112.9M554.37 2V112.9M563.7 2V112.9M573.03 2V112.9M582.36 2V112.9M465.5 108.1H586.5M465.5 98.04H586.5M465.5 87.98H586.5M465.5 77.92H586.5M465.5 67.86H586.5M465.5 57.8H586.5M465.5 47.74H586.5M465.5 37.68H586.5M465.5 27.62H586.5M465.5 17.56H586.5M465.5 7.5H586.5" stroke="#e6e6e6" stroke-width="0.8" fill="none"/>
<path d="M482.53 2V112.9M465.5 52.77H586.5M465.5 62.83H586.5" stroke="#5a9ab8" stroke-width="0.8" stroke-dasharray="1 1.6" fill="none"/>
<g clip-path="url(#c3)">
<path d="M484.95 62.93 L498.39 63.08 L507.72 62.98 L516.12 62.83 L522.65 62.83 L531.7 62.83 L545.04 62.83 L562.77 63.33 L568.37 65.85 L573.96 71.88 L574.9 75.91 L574.9 76.41 L573.96 78.93 L568.37 82.95 L562.77 84.46 L545.04 87.48 L531.7 86.97 L522.65 80.94 L516.12 74.4 L507.72 67.86 L498.39 64.34 L484.95 63.03Z" fill="#1E8750"/>
<path d="M515.47 75.33h0M506.52 69.62h0M538.08 89.71h0M572.13 81.11h0M503.85 70.47h0M542.17 88.01h0M522.91 81.13h0M503.96 71.45h0M571.32 84.16h0M504.05 66.56h0M550.14 87.56h0M548.3 89.03h0M521.08 81.15h0M573.29 81.47h0M502.52 67.65h0M514.91 75.63h0M568.94 85.26h0M538.81 89.29h0M544.15 88.93h0M562.07 86.2h0M507.18 70.29h0M539 89.02h0M513.35 73.05h0M496.61 64.78h0M559.95 86.2h0M566.74 85.45h0M531.98 87.57h0M543.31 89.16h0M504.09 66.73h0M533.94 87.42h0M503.95 70.91h0M561.2 84.86h0M503.98 66.56h0M571.92 82.45h0M573.7 80.71h0M526.84 84.11h0M536.82 89.4h0M533.25 89.11h0M572.91 80.24h0M495.06 71.88h0M527.11 89.72h0M497.79 73.18h0M514.48 85.9h0M539.15 93.48h0M535.58 92.21h0M496.11 69.56h0M569.59 86.91h0M523.52 92.94h0" stroke="#1E8750" stroke-width="2.3" stroke-linecap="round" stroke-opacity="0.85" fill="none"/>
<path d="M523.17 83.26h0M541.79 88.11h0M512.85 73.18h0M511.15 75.52h0M524.08 81.93h0M491.6 64.39h0M501.38 68.76h0M519.84 82.21h0M536.97 89.77h0M525.21 84.5h0M503.78 68.42h0M531.62 90.41h0M572.28 81.16h0M503.29 67.79h0M509.27 74.83h0M523.81 86.28h0M509.57 75.08h0M524.17 85.5h0M542.1 89.33h0M570.76 84.67h0M497.54 64.47h0M572.55 81.61h0M563.69 85.36h0M567.01 84.03h0M512.26 72.78h0M569.74 83.87h0M529.7 88.27h0M504.97 70.8h0M498.35 65.9h0M560.17 86.36h0M490.21 65.07h0M563.33 85.41h0M524.67 82.37h0M554.02 87.19h0M506.8 69.27h0M530.84 86.95h0M520.84 82.9h0M523.81 82.99h0M515.42 75.78h0M510.35 81.41h0M513.55 85.52h0M525.38 94.14h0M491.81 69.36h0M517 81.62h0M522.87 91.84h0M515 85.86h0M505.84 76.36h0M511.52 80.16h0" stroke="#1E8750" stroke-width="2.3" stroke-linecap="round" stroke-opacity="0.85" fill="none"/>
<path d="M511.02 73.08h0M531.22 88.67h0M538.64 88.13h0M555.55 86.86h0M516.89 76.17h0M525.18 86.04h0M509.19 70.09h0M502.63 67.08h0M513.55 72.52h0M491.99 63.87h0M512.9 71.91h0M532.19 87.53h0M555.71 87.03h0M497.54 68.01h0M503.83 68.38h0M567.2 85.56h0M569.61 84.37h0M550.16 89.02h0M535.33 88.05h0M503.57 69.57h0M551.49 88.82h0M506.69 68.61h0M523.07 85.09h0M502.25 67.2h0M539.54 88.69h0M516.91 76.47h0M536.49 87.68h0M502.34 68.84h0M541.98 88.54h0M534.51 87.39h0M514.23 78.38h0M500.39 69.35h0M519.6 79.15h0M495.76 64.8h0M566.35 85.62h0M559.91 86.25h0M561.9 85.97h0M544.92 88.99h0M505.95 79.64h0M562.99 88.57h0M561.48 87.47h0M520.14 90.7h0M546.51 91.86h0M525.67 92.31h0M511.45 85.05h0M510.71 82.54h0M504.09 78.41h0" stroke="#1E8750" stroke-width="2.3" stroke-linecap="round" stroke-opacity="0.85" fill="none"/>
<path d="M483.46 52.27 L489.99 52.37 L499.32 52.37 L515 53.02 L531.04 53.17 L549.7 53.02 L563.7 51.26 L572.1 50.25 L572.1 49.75 L563.7 45.73 L549.7 43.21 L531.04 43.72 L515 46.23 L499.32 49.25 L489.99 50.25 L483.46 52.02Z" fill="#E14B32"/>
<path d="M521.91 43.18h0M487.09 50.94h0M569.96 48.67h0M563.97 44.26h0M528.05 43.76h0M536.29 42.99h0M528.98 43.29h0M563.88 44.57h0M502.96 46.25h0M484.5 49.6h0M529.29 42.46h0M487.74 49.32h0M514.08 45h0M513.66 45.25h0M567.33 46.23h0M513.18 45.23h0M509.62 45.24h0M495.34 47.14h0M563.83 43.4h0M535.41 42.31h0M566.22 45.29h0M546.48 39.7h0M494.72 46.19h0M520.45 41.86h0M537.1 40.39h0M551.47 42.26h0M509.04 41.7h0" stroke="#E14B32" stroke-width="2.3" stroke-linecap="round" stroke-opacity="0.85" fill="none"/>
<path d="M568.68 47.12h0M556.52 42.98h0M496.52 47.62h0M488.03 50.02h0M493.08 48.52h0M495.06 49.55h0M500.66 47.41h0M505.77 45.3h0M488.08 49.06h0M510.82 46.95h0M570.82 46.4h0M502.34 45.82h0M540.95 42.99h0M525.68 42.92h0M521.45 44.69h0M532.41 43.42h0M524.86 43.7h0M569.92 47.04h0M504.09 45.99h0M484.53 50.42h0M564.2 44.76h0M496.2 45.09h0M516.33 43.41h0M530.37 38.75h0M539.2 41.38h0M524.55 39.89h0M500.15 43.15h0" stroke="#E14B32" stroke-width="2.3" stroke-linecap="round" stroke-opacity="0.85" fill="none"/>
<path d="M525.18 43.83h0M542.85 42.45h0M511.93 46.1h0M501.58 46h0M511.56 45.51h0M498.03 48.92h0M564.42 45.75h0M552.08 42.42h0M502.23 48.35h0M487.33 50.42h0M506.52 45.37h0M513.45 44.15h0M527.9 43.88h0M513.72 45.04h0M538.06 42.76h0M493.92 47.44h0M494.58 49.54h0M505.16 47.13h0M496.16 49.47h0M507.46 45.61h0M495.09 47.76h0M560.65 41.32h0M497.84 45.97h0M519.37 41.48h0M561.36 41.69h0M537.32 40.85h0M543.27 39.24h0" stroke="#E14B32" stroke-width="2.3" stroke-linecap="round" stroke-opacity="0.85" fill="none"/>
<path d="M469.19 57.6 L475.44 53.37 L479.73 52.27 L485.79 52.37 L496.24 52.37 L511.17 52.52 L524.42 53.07 L545.04 53.02 L556.7 53.02 L557.17 53.78 L551.57 54.38 L535.71 55.89 L517.05 56.54 L502.5 57.6 L517.05 58.55 L535.71 59.61 L554.37 61.12 L558.76 61.82 L558.76 62.58 L526.38 62.93 L506.69 62.83 L485.79 62.58 L475.44 61.27Z" fill="#000"/>
<path d="M472.94 59.99h0M479.21 52.23h0M468.77 56.68h0M475.92 61.15h0M471.66 55.05h0" stroke="#000" stroke-width="2.2" stroke-linecap="round" fill="none"/>
</g>
<path d="M465.5 2H586.5V112.9" stroke="#8a8a8a" stroke-width="1" fill="none"/>
<path d="M465.5 1.7V112.9H586.8" stroke="#333" stroke-width="1.3" fill="none"/>
<path d="M462.5 108.1H465.5M462.5 98.04H465.5M462.5 87.98H465.5M462.5 77.92H465.5M462.5 67.86H465.5M462.5 57.8H465.5M462.5 47.74H465.5M462.5 37.68H465.5M462.5 27.62H465.5M462.5 17.56H465.5M462.5 7.5H465.5M470.4 112.9V115.9M479.73 112.9V115.9M489.06 112.9V115.9M498.39 112.9V115.9M507.72 112.9V115.9M517.05 112.9V115.9M526.38 112.9V115.9M535.71 112.9V115.9M545.04 112.9V115.9M554.37 112.9V115.9M563.7 112.9V115.9M573.03 112.9V115.9M582.36 112.9V115.9M465.5 112.9V115.9" stroke="#333" stroke-width="0.9" fill="none"/>
<text class="tk" x="461.5" y="109.9" text-anchor="end">−10</text>
<text class="tk" x="461.5" y="99.84" text-anchor="end">−8</text>
<text class="tk" x="461.5" y="89.78" text-anchor="end">−6</text>
<text class="tk" x="461.5" y="79.72" text-anchor="end">−4</text>
<text class="tk" x="461.5" y="69.66" text-anchor="end">−2</text>
<text class="tk" x="461.5" y="59.6" text-anchor="end">0</text>
<text class="tk" x="461.5" y="49.54" text-anchor="end">2</text>
<text class="tk" x="461.5" y="39.48" text-anchor="end">4</text>
<text class="tk" x="461.5" y="29.42" text-anchor="end">6</text>
<text class="tk" x="461.5" y="19.36" text-anchor="end">8</text>
<text class="tk" x="461.5" y="9.3" text-anchor="end">10</text>
<text class="tk" x="470.4" y="121.5" text-anchor="middle">0</text>
<text class="tk" x="479.73" y="121.5" text-anchor="middle">1</text>
<text class="tk" x="489.06" y="121.5" text-anchor="middle">2</text>
<text class="tk" x="498.39" y="121.5" text-anchor="middle">3</text>
<text class="tk" x="507.72" y="121.5" text-anchor="middle">4</text>
<text class="tk" x="517.05" y="121.5" text-anchor="middle">5</text>
<text class="tk" x="526.38" y="121.5" text-anchor="middle">6</text>
<text class="tk" x="535.71" y="121.5" text-anchor="middle">7</text>
<text class="tk" x="545.04" y="121.5" text-anchor="middle">8</text>
<text class="tk" x="554.37" y="121.5" text-anchor="middle">9</text>
<text class="tk" x="563.7" y="121.5" text-anchor="middle">10</text>
<text class="tk" x="573.03" y="121.5" text-anchor="middle">11</text>
<text class="tk" x="582.36" y="121.5" text-anchor="middle">12</text>
<text class="ttl" x="527" y="15.9" text-anchor="middle">E-TABM-234</text>
<text class="axl" x="526.2" y="131.9" text-anchor="middle">-log10(adj.P)</text>
<path d="M609.4 1.7V112.4M623.08 1.7V112.4M636.76 1.7V112.4M650.44 1.7V112.4M664.12 1.7V112.4M677.8 1.7V112.4M691.48 1.7V112.4M705.16 1.7V112.4M718.84 1.7V112.4M604.5 107.55H725.6M604.5 97.5H725.6M604.5 87.45H725.6M604.5 77.4H725.6M604.5 67.35H725.6M604.5 57.3H725.6M604.5 47.25H725.6M604.5 37.2H725.6M604.5 27.15H725.6M604.5 17.1H725.6M604.5 7.05H725.6" stroke="#e6e6e6" stroke-width="0.8" fill="none"/>
<path d="M618.29 1.7V112.4M604.5 52.27H725.6M604.5 62.32H725.6" stroke="#5a9ab8" stroke-width="0.8" stroke-dasharray="1 1.6" fill="none"/>
<g clip-path="url(#c4)">
<path d="M621.71 62.58 L626.71 62.43 L640.18 62.32 L653.72 62.32 L664.53 62.32 L670.96 62.32 L680.54 62.32 L687.38 62.32 L694.22 62.32 L701.06 62.32 L706.53 66.34 L711.32 73.88 L714.05 81.92 L714.05 83.43 L711.32 86.44 L706.53 88.96 L701.06 89.46 L694.22 89.46 L687.38 87.45 L680.54 80.41 L670.96 72.88 L664.53 69.86 L653.72 66.85 L640.18 65.34 L626.71 63.83 L621.71 62.73Z" fill="#1E8750"/>
<path d="M676.49 81.18h0M654.62 72.94h0M701.67 89.48h0M653.79 70.32h0M634.82 68.46h0M654.69 69.07h0M670.42 80.07h0M703.1 90.09h0M628.08 66.06h0M649.9 69.6h0M626.6 65.71h0M676.71 85.47h0M668.81 81.62h0M656.6 70.43h0M663.43 71.76h0M666.73 80.61h0M663.66 73.5h0M665.69 76.46h0M626.28 64.39h0M686.01 87.22h0M666.55 77.3h0M653.23 68.46h0M672.85 82.71h0M707.79 88.67h0M669.3 76.91h0M706.1 90.36h0M704.27 89.66h0M631.18 66.31h0M677.7 79.16h0M660.39 75.36h0M643.21 66.78h0M673.8 78.83h0M675.68 78.64h0M676.25 77.95h0M654.18 70.87h0M671.9 77.33h0M680.74 87.4h0M685.37 90.06h0M673.91 78.22h0M691.6 90.65h0M676.03 82.69h0M625.16 65.45h0M653.09 67.93h0M664.72 75.43h0M672.23 82.99h0M634.88 68.4h0M659.09 75.7h0M672.11 81.77h0M630.6 67.21h0M658.59 72.94h0M651.52 72.08h0M650.62 71.84h0M684.02 85.81h0M674.44 81.91h0M679.41 86.42h0M641.15 73.94h0M668.58 82.15h0M675.81 92.41h0M659.8 87.48h0M665.49 85.94h0M674.02 91.03h0M650.79 74.43h0M659.87 86.25h0M683.43 93.3h0M698.08 92.87h0M650.58 74.64h0M670.65 90.85h0" stroke="#1E8750" stroke-width="2.3" stroke-linecap="round" stroke-opacity="0.85" fill="none"/>
<path d="M679.93 83.86h0M649.66 68.19h0M627.26 65.82h0M653.67 73.08h0M642.19 68.45h0M646.2 68.09h0M709.82 88.83h0M655.96 73.33h0M656.98 69.36h0M657.24 68.93h0M636.4 68.95h0M652.77 67.6h0M677.82 79.17h0M627.24 66.92h0M684.23 85.23h0M653.49 72.9h0M635.6 66.02h0M640.01 70.26h0M671.37 77.76h0M645.84 70.49h0M654.48 71.1h0M649.56 66.41h0M662.2 72.3h0M655.48 74.23h0M650.09 70.27h0M643.52 66.13h0M660.55 77.05h0M661.55 69.05h0M666.3 77.59h0M671.27 77.31h0M646.29 70.51h0M663.36 77.93h0M628.31 66.83h0M676.17 79.03h0M657.11 72.03h0M659.73 72h0M681.78 86.08h0M640.47 66.8h0M683.01 87.94h0M663.7 77.97h0M647.14 70.39h0M669.09 75.43h0M689.94 89.43h0M684.73 87.08h0M650.5 71.25h0M671.76 82.77h0M670.37 79.83h0M636.21 68.46h0M699.35 90.19h0M671.53 83.7h0M659.12 72.1h0M698.05 90.41h0M706.04 89.01h0M659.25 68.43h0M658.47 69.62h0M637.33 76.31h0M672.04 91.26h0M659.92 77.84h0M683.88 91.41h0M662.16 84.63h0M672.03 89.86h0M649.3 73.2h0M659.37 76.81h0M664.5 87.44h0M682.13 93.26h0M663.07 89.48h0M638.38 74.41h0" stroke="#1E8750" stroke-width="2.3" stroke-linecap="round" stroke-opacity="0.85" fill="none"/>
<path d="M642.52 68.46h0M639.64 67.22h0M637.2 67.48h0M627.36 64.97h0M712.78 88.15h0M662.37 69.85h0M673.93 84.48h0M661.56 73.59h0M659.16 71.02h0M665.89 70.71h0M625.86 63.93h0M713.4 88.39h0M625.68 66.12h0M666.74 75.54h0M629.83 66.54h0M712.37 87.79h0M704.33 89.61h0M676.15 77.91h0M665.47 71.59h0M626.92 66.15h0M642.35 68.54h0M677.14 78.1h0M658.89 74.03h0M679.14 79.48h0M669.2 75.9h0M711.35 87.87h0M663.58 71.89h0M634.51 67.41h0M645.86 68.54h0M672.98 81.32h0M669.51 80.88h0M644.68 66.87h0M691.81 88.94h0M679.74 84.94h0M682.38 84.51h0M684.32 85.18h0M673.29 84.31h0M700.37 90.36h0M667.92 78.36h0M639.96 65.73h0M676.84 81.82h0M629.83 66.2h0M659.24 68.59h0M672.23 75.79h0M680.07 82.86h0M686.56 89.9h0M676.28 82.68h0M699.6 91h0M672.03 76.55h0M627.49 66.17h0M655.2 73.22h0M660.38 75.76h0M682.39 83.96h0M688.03 91.2h0M648.56 72.25h0M656.14 79.36h0M666.04 92.45h0M669.25 82.85h0M628.28 68.33h0M651.32 73.13h0M625.83 68.53h0M680.86 92.61h0M663.73 96.17h0M656.57 80.12h0M660.3 83.1h0M627.66 69.45h0M661.87 86.96h0" stroke="#1E8750" stroke-width="2.3" stroke-linecap="round" stroke-opacity="0.85" fill="none"/>
<path d="M617.61 51.77 L619.66 52.02 L629.92 52.17 L640.52 52.27 L650.92 52.27 L665.49 52.27 L679.17 52.27 L686.01 51.77 L693.53 49.26 L700.37 46.75 L700.37 46.24 L693.53 47.25 L686.01 44.23 L679.17 41.72 L665.49 42.73 L650.92 45.24 L640.52 46.75 L629.92 48.51 L619.66 49.76 L617.61 51.27Z" fill="#E14B32"/>
<path d="M643.65 45.06h0M648.47 44.74h0M635.77 45.5h0M668.58 42.2h0M651.66 43.58h0M672.71 42.17h0M630.75 47.02h0M661.34 41.46h0M631 47.71h0M695.66 46.62h0M685.66 42.58h0M677.48 40.98h0M695.65 45.54h0M651.72 44.18h0M634.9 46.44h0M681.4 42.42h0M637.93 45.31h0M651.17 42.86h0M652.97 42.53h0M642.24 41.39h0M639.32 41.59h0M651.06 38.77h0M636.37 44.26h0M626.35 45.22h0" stroke="#E14B32" stroke-width="2.3" stroke-linecap="round" stroke-opacity="0.85" fill="none"/>
<path d="M618.42 50.1h0M645.62 45.8h0M637.09 46.84h0M620.48 48.3h0M666.66 40.86h0M654.52 44.13h0M674.93 41.21h0M633.42 46.76h0M630.79 46.61h0M681.65 41.73h0M625.03 48.74h0M623.91 48.08h0M645.92 44.33h0M629.94 46.97h0M672.39 41.05h0M659.11 43.46h0M642.84 46.4h0M688.84 44.95h0M617.68 49.51h0M644.31 40.97h0M655.68 40.26h0M644.98 39.39h0M635.14 43.19h0M643.47 40.55h0" stroke="#E14B32" stroke-width="2.3" stroke-linecap="round" stroke-opacity="0.85" fill="none"/>
<path d="M661.91 41.47h0M665.02 42.11h0M675.92 41.96h0M669.4 41.38h0M642.13 45.5h0M660.47 43.51h0M632.22 46.98h0M625.71 47.26h0M653.67 43.42h0M667.95 42.48h0M694.65 46.71h0M629.19 48.37h0M667.86 42.55h0M695.39 45.68h0M660.48 41.84h0M649.04 44.06h0M651.06 43.29h0M662.11 41.25h0M650.12 40.91h0M666.64 39.58h0M641.23 42.98h0M649.42 41.05h0M679.46 40.12h0M622.79 45.44h0" stroke="#E14B32" stroke-width="2.3" stroke-linecap="round" stroke-opacity="0.85" fill="none"/>
<path d="M608.17 56.8 L612.34 52.38 L616.51 51.27 L624.79 51.37 L645.65 52.27 L664.12 52.27 L683.27 52.53 L683.61 53.28 L670.96 54.54 L655.02 55.29 L643.6 56.04 L632.11 57.1 L643.6 57.9 L655.02 58.41 L667.54 59.56 L677.8 61.52 L678.48 62.07 L664.12 62.43 L635.26 62.32 L619.59 61.82 L612.34 60.21Z" fill="#000"/>
<path d="M617.43 61.85h0M609.12 57.64h0M615.86 50.45h0M614.78 61.61h0" stroke="#000" stroke-width="2.2" stroke-linecap="round" fill="none"/>
</g>
<path d="M604.5 1.7H725.6V112.4" stroke="#8a8a8a" stroke-width="1" fill="none"/>
<path d="M604.5 1.4V112.4H725.9" stroke="#333" stroke-width="1.3" fill="none"/>
<path d="M601.5 107.55H604.5M601.5 97.5H604.5M601.5 87.45H604.5M601.5 77.4H604.5M601.5 67.35H604.5M601.5 57.3H604.5M601.5 47.25H604.5M601.5 37.2H604.5M601.5 27.15H604.5M601.5 17.1H604.5M601.5 7.05H604.5M609.4 112.4V115.4M623.08 112.4V115.4M636.76 112.4V115.4M650.44 112.4V115.4M664.12 112.4V115.4M677.8 112.4V115.4M691.48 112.4V115.4M705.16 112.4V115.4M718.84 112.4V115.4M604.5 112.4V115.4" stroke="#333" stroke-width="0.9" fill="none"/>
<text class="tk" x="600.5" y="109.35" text-anchor="end">−10</text>
<text class="tk" x="600.5" y="99.3" text-anchor="end">−8</text>
<text class="tk" x="600.5" y="89.25" text-anchor="end">−6</text>
<text class="tk" x="600.5" y="79.2" text-anchor="end">−4</text>
<text class="tk" x="600.5" y="69.15" text-anchor="end">−2</text>
<text class="tk" x="600.5" y="59.1" text-anchor="end">0</text>
<text class="tk" x="600.5" y="49.05" text-anchor="end">2</text>
<text class="tk" x="600.5" y="39" text-anchor="end">4</text>
<text class="tk" x="600.5" y="28.95" text-anchor="end">6</text>
<text class="tk" x="600.5" y="18.9" text-anchor="end">8</text>
<text class="tk" x="600.5" y="8.85" text-anchor="end">10</text>
<text class="tk" x="609.4" y="121" text-anchor="middle">0</text>
<text class="tk" x="623.08" y="121" text-anchor="middle">2</text>
<text class="tk" x="636.76" y="121" text-anchor="middle">4</text>
<text class="tk" x="650.44" y="121" text-anchor="middle">6</text>
<text class="tk" x="664.12" y="121" text-anchor="middle">8</text>
<text class="tk" x="677.8" y="121" text-anchor="middle">10</text>
<text class="tk" x="691.48" y="121" text-anchor="middle">12</text>
<text class="tk" x="705.16" y="121" text-anchor="middle">14</text>
<text class="tk" x="718.84" y="121" text-anchor="middle">16</text>
<text class="ttl" x="666.4" y="15.9" text-anchor="middle">E-TABM-1214</text>
<text class="axl" x="660.1" y="131.9" text-anchor="middle">-log10(adj.P)</text>
<text class="axl" transform="translate(25.3 61.8) rotate(-90)" text-anchor="middle">log2(FC)</text>
<text class="lg" x="730.6" y="7.6">Regulated</text>
<circle cx="733.8" cy="14.5" r="3" fill="#1E8750"/>
<circle cx="733.8" cy="24.5" r="3" fill="#E14B32"/>
<text class="lg" x="738.8" y="16.6">Down-regulated</text>
<text class="lg" x="738.8" y="26.6">Up-regulated</text>
<text class="pl" x="1.2" y="18.7">A</text>
<text class="pl" transform="translate(4.9 161.9) scale(0.84 1)">B</text>
<ellipse cx="230.68" cy="315.73" rx="48.81" ry="98.92" transform="rotate(71.89 230.68 315.73)" fill="#4DBBD5" fill-opacity="0.4"/>
<ellipse cx="200.41" cy="305.84" rx="48.81" ry="98.92" transform="rotate(-0.11 200.41 305.84)" fill="#E64B35" fill-opacity="0.4"/>
<ellipse cx="180.83" cy="333.15" rx="48.81" ry="98.92" transform="rotate(-72.11 180.83 333.15)" fill="#00A087" fill-opacity="0.4"/>
<ellipse cx="203.24" cy="358.36" rx="48.81" ry="98.92" transform="rotate(-144.11 203.24 358.36)" fill="#3C5488" fill-opacity="0.4"/>
<ellipse cx="234.48" cy="348.12" rx="48.81" ry="98.92" transform="rotate(143.89 234.48 348.12)" fill="#F39B7F" fill-opacity="0.4"/>
<text class="vn" x="198.3" y="245.1" text-anchor="middle">30</text>
<text class="vn" x="188.8" y="274.2" text-anchor="middle">0</text>
<text class="vn" x="235.5" y="271.7" text-anchor="middle">13</text>
<text class="vn" x="207.2" y="280.7" text-anchor="middle">0</text>
<text class="vn" x="243.3" y="281.9" text-anchor="middle">0</text>
<text class="vn" x="157.8" y="293.2" text-anchor="middle">554</text>
<text class="vn" x="170.8" y="289.1" text-anchor="middle">12</text>
<text class="vn" x="178.3" y="302.1" text-anchor="middle">5</text>
<text class="vn" x="232.8" y="295.1" text-anchor="middle">10</text>
<text class="vn" x="262" y="294.6" text-anchor="middle">1</text>
<text class="vn" x="292" y="297.1" text-anchor="middle">1241</text>
<text class="vn" x="261.5" y="316.7" text-anchor="middle">390</text>
<text class="vn" x="120" y="319.9" text-anchor="middle">101</text>
<text class="vn" x="158.5" y="321.1" text-anchor="middle">141</text>
<text class="vn" x="145" y="337.9" text-anchor="middle">11</text>
<text class="vn" x="210.8" y="335.9" text-anchor="middle">416</text>
<text class="vn" x="278.8" y="338.6" text-anchor="middle">30</text>
<text class="vn" x="255.5" y="345.4" text-anchor="middle">28</text>
<text class="vn" x="269.5" y="350.4" text-anchor="middle">2</text>
<text class="vn" x="263.3" y="372.4" text-anchor="middle">1</text>
<text class="vn" x="244.5" y="377.9" text-anchor="middle">40</text>
<text class="vn" x="217" y="381.8" text-anchor="middle">693</text>
<text class="vn" x="170" y="356.2" text-anchor="middle">0</text>
<text class="vn" x="153.8" y="360.4" text-anchor="middle">0</text>
<text class="vn" x="153.8" y="374.7" text-anchor="middle">0</text>
<text class="vn" x="182.5" y="382.4" text-anchor="middle">3</text>
<text class="vn" x="193.8" y="398.4" text-anchor="middle">0</text>
<text class="vn" x="216.3" y="397.3" text-anchor="middle">30</text>
<text class="vn" x="228.8" y="400.9" text-anchor="middle">1422</text>
<text class="vn" x="273.8" y="399.7" text-anchor="middle">58</text>
<text class="vn" x="167.5" y="414.9" text-anchor="middle">7</text>
<text class="vn" x="200.5" y="197.1" text-anchor="middle">GSE45885</text>
<text class="vn" x="98.8" y="269.2" text-anchor="middle">GSE45887</text>
<text class="vn" x="307.8" y="251.7" text-anchor="middle">GSE4797</text>
<text class="vn" x="146.3" y="460.4" text-anchor="middle" style="word-spacing:1.1px">E - TABM - 234</text>
<text class="vn" x="290.5" y="449.4" text-anchor="middle" style="word-spacing:1.1px">E - TABM - 1214</text>
<text class="vt" x="203.6" y="169.8" text-anchor="middle" style="fill:#2a8a55">Down-regulated</text>
<ellipse cx="572.68" cy="315.73" rx="48.81" ry="98.92" transform="rotate(71.89 572.68 315.73)" fill="#4DBBD5" fill-opacity="0.4"/>
<ellipse cx="542.41" cy="305.84" rx="48.81" ry="98.92" transform="rotate(-0.11 542.41 305.84)" fill="#E64B35" fill-opacity="0.4"/>
<ellipse cx="522.83" cy="333.15" rx="48.81" ry="98.92" transform="rotate(-72.11 522.83 333.15)" fill="#00A087" fill-opacity="0.4"/>
<ellipse cx="545.24" cy="358.36" rx="48.81" ry="98.92" transform="rotate(-144.11 545.24 358.36)" fill="#3C5488" fill-opacity="0.4"/>
<ellipse cx="576.48" cy="348.12" rx="48.81" ry="98.92" transform="rotate(143.89 576.48 348.12)" fill="#F39B7F" fill-opacity="0.4"/>
<text class="vn" x="540.3" y="245.1" text-anchor="middle">44</text>
<text class="vn" x="530.8" y="274.2" text-anchor="middle">3</text>
<text class="vn" x="577.5" y="271.7" text-anchor="middle">10</text>
<text class="vn" x="549.2" y="280.7" text-anchor="middle">0</text>
<text class="vn" x="585.3" y="281.9" text-anchor="middle">0</text>
<text class="vn" x="499.8" y="293.2" text-anchor="middle">246</text>
<text class="vn" x="512.8" y="289.1" text-anchor="middle">4</text>
<text class="vn" x="520.3" y="302.1" text-anchor="middle">8</text>
<text class="vn" x="574.8" y="295.1" text-anchor="middle">26</text>
<text class="vn" x="604" y="294.6" text-anchor="middle">1</text>
<text class="vn" x="634" y="297.1" text-anchor="middle">1584</text>
<text class="vn" x="603.5" y="316.7" text-anchor="middle">672</text>
<text class="vn" x="462" y="319.9" text-anchor="middle">66</text>
<text class="vn" x="500.5" y="321.1" text-anchor="middle">87</text>
<text class="vn" x="487" y="337.9" text-anchor="middle">26</text>
<text class="vn" x="552.8" y="335.9" text-anchor="middle">185</text>
<text class="vn" x="620.8" y="338.6" text-anchor="middle">59</text>
<text class="vn" x="597.5" y="345.4" text-anchor="middle">24</text>
<text class="vn" x="611.5" y="350.4" text-anchor="middle">1</text>
<text class="vn" x="605.3" y="372.4" text-anchor="middle">4</text>
<text class="vn" x="586.5" y="377.9" text-anchor="middle">28</text>
<text class="vn" x="559" y="381.8" text-anchor="middle">132</text>
<text class="vn" x="512" y="356.2" text-anchor="middle">1</text>
<text class="vn" x="495.8" y="360.4" text-anchor="middle">0</text>
<text class="vn" x="495.8" y="374.7" text-anchor="middle">0</text>
<text class="vn" x="524.5" y="382.4" text-anchor="middle">1</text>
<text class="vn" x="535.8" y="398.4" text-anchor="middle">0</text>
<text class="vn" x="558.3" y="397.3" text-anchor="middle">11</text>
<text class="vn" x="570.8" y="400.9" text-anchor="middle">962</text>
<text class="vn" x="615.8" y="399.7" text-anchor="middle">131</text>
<text class="vn" x="509.5" y="414.9" text-anchor="middle">9</text>
<text class="vn" x="542.5" y="197.1" text-anchor="middle">GSE45885</text>
<text class="vn" x="440.8" y="269.2" text-anchor="middle">GSE45887</text>
<text class="vn" x="649.8" y="251.7" text-anchor="middle">GSE4797</text>
<text class="vn" x="488.3" y="460.4" text-anchor="middle" style="word-spacing:1.1px">E - TABM - 234</text>
<text class="vn" x="632.5" y="449.4" text-anchor="middle" style="word-spacing:1.1px">E - TABM - 1214</text>
<text class="vt" x="545.6" y="169.8" text-anchor="middle" style="fill:#d83a3a">Up-regulated</text>
</svg></body></html>
